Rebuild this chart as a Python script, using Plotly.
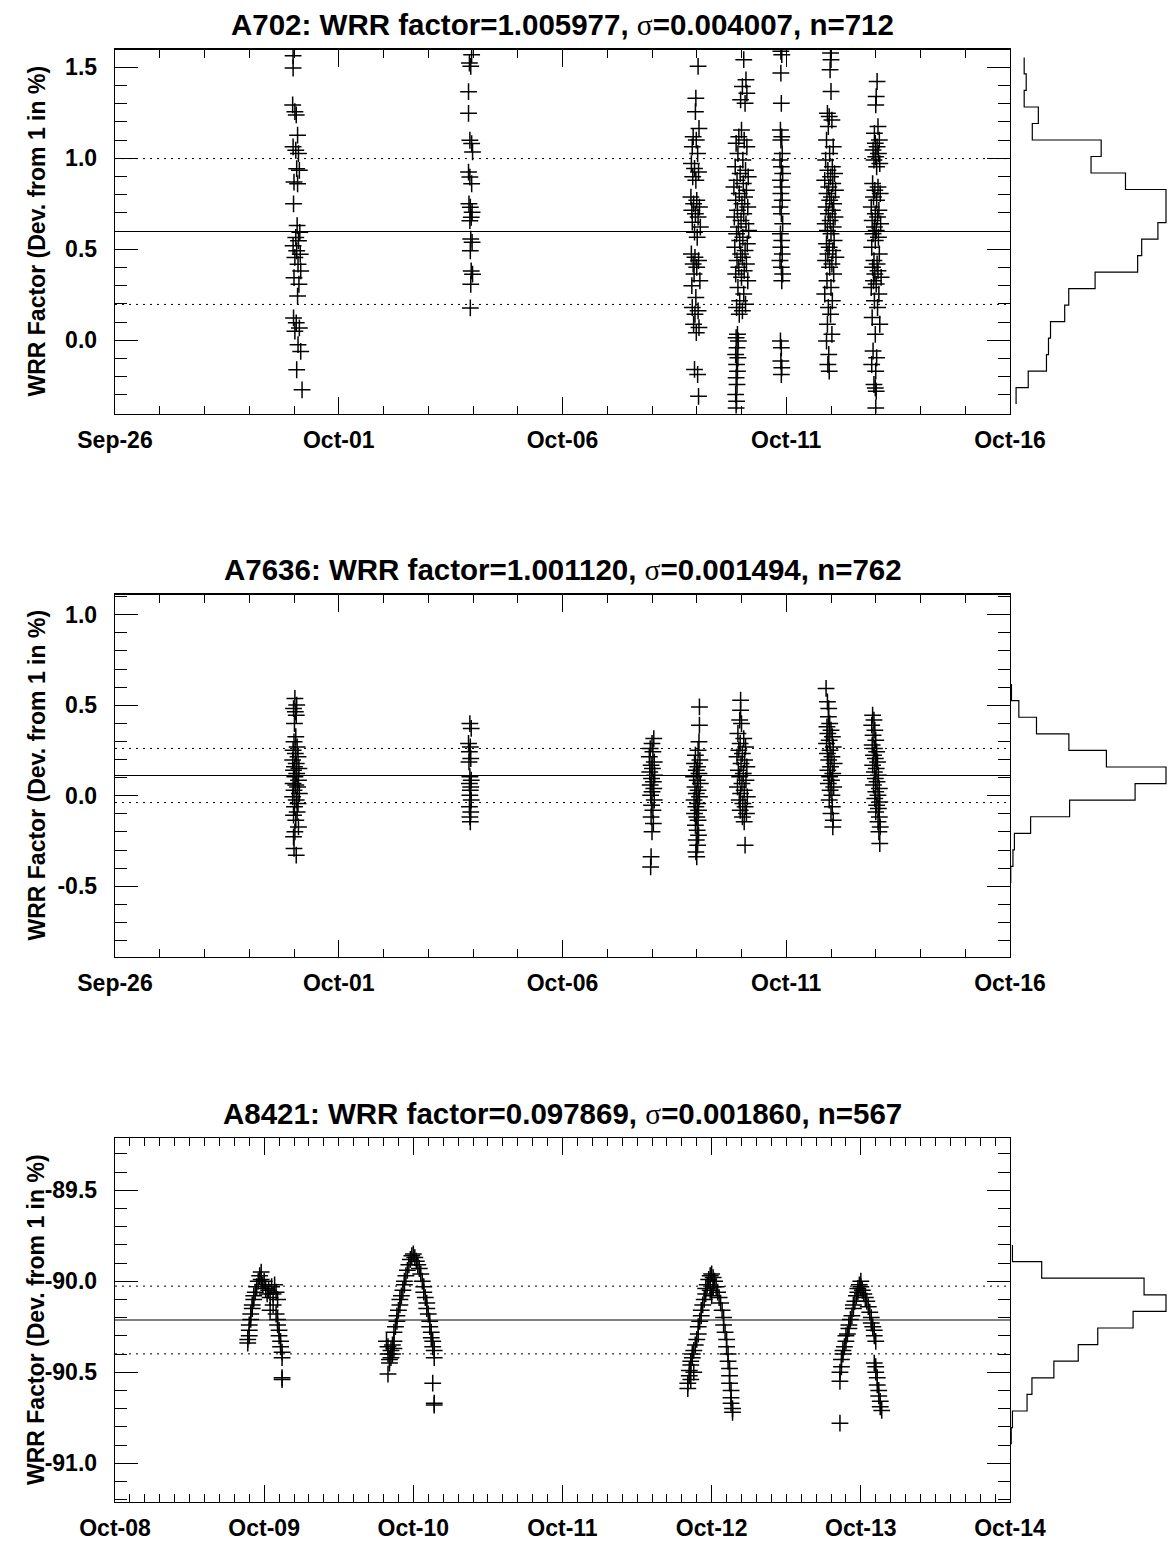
import plotly.graph_objects as go
import pandas as pd

W, H = 1169, 1543

# ---------------- header data ----------------
inst_names = ["A702", "A7636", "A8421"]
wrr_factor = [1.005977, 1.001120, 0.097869]
wrr_sigma = [0.004007, 0.001494, 0.001860]
n_obs = [712, 762, 567]

x_start = ["2004-09-26", "2004-09-26", "2004-10-08"]
x_days = [20, 20, 6]

y_ticks = [[0.0, 0.5, 1.0, 1.5], [-0.5, 0.0, 0.5, 1.0], [-91.0, -90.5, -90.0, -89.5]]
y_ticktext = [["0.0", "0.5", "1.0", "1.5"], ["-0.5", "0.0", "0.5", "1.0"],
              ["-91.0", "-90.5", "-90.0", "-89.5"]]

# ---------------- panel 1 (A702): days since Sep-26, deviation in % ----------------
p1_times = [
    [3.98, 3.98, 3.97, 4.02, 4.05, 4.08, 3.98, 4.04, 4.10, 4.06, 4.12, 4.00, 4.08, 3.99, 4.07, 4.13, 4.04, 4.10,
     3.98, 4.06, 4.14, 4.02, 4.09, 4.15, 4.00, 4.11, 4.08, 3.99, 4.05, 4.12, 4.02, 4.09, 4.15, 4.06, 4.18],
    [7.97, 7.92, 7.95, 7.90, 7.90, 7.93, 7.97, 7.99, 7.90, 7.93, 7.97, 7.91, 7.94, 7.98, 7.96, 7.93, 7.95, 7.98,
     7.94, 7.96, 7.99, 7.95, 7.94],
    [13.03, 12.98, 12.97, 13.05, 12.92, 12.99, 12.90, 13.02, 12.88, 12.95, 13.04, 12.91, 12.98, 12.87, 13.00,
     12.93, 13.06, 12.89, 12.97, 13.03, 12.90, 13.08, 12.95, 13.01, 12.88, 12.96, 13.04, 12.92, 13.00, 12.94,
     13.07, 12.89, 12.98, 12.90, 13.03, 12.96, 12.93, 13.05, 12.99, 12.95, 13.02, 13.04],
    [14.05, 14.10, 14.02, 14.12, 13.98, 14.08, 14.00, 13.94, 14.06, 13.88, 14.12, 13.92, 14.03, 13.86, 14.09,
     13.97, 14.15, 13.90, 14.04, 13.83, 14.11, 13.95, 14.07, 13.87, 14.01, 14.14, 13.91, 14.05, 13.84, 13.99,
     14.10, 13.93, 14.16, 13.89, 14.03, 13.96, 14.13, 13.85, 14.08, 13.98, 14.02, 13.90, 14.11, 13.94, 14.06,
     13.87, 14.00, 14.14, 13.92, 14.05, 13.96, 14.09, 13.89, 14.02, 13.95, 13.91, 13.88, 13.93, 13.90, 13.87,
     13.92, 13.89, 13.91, 13.88, 13.90, 13.87, 13.89, 13.88],
    [14.88, 14.90, 14.88, 14.89, 14.87, 14.90, 14.88, 14.91, 14.86, 14.89, 14.92, 14.87, 14.90, 14.88, 14.91,
     14.86, 14.89, 14.92, 14.87, 14.90, 14.88, 14.91, 14.86, 14.89, 14.92, 14.90, 14.87, 14.89, 14.88, 14.90,
     14.89],
    [15.99, 16.00, 15.98, 16.00, 15.92, 15.96, 16.02, 15.94, 15.90, 16.05, 15.97, 15.88, 16.03, 15.93, 16.08,
     15.99, 15.86, 16.04, 15.95, 16.10, 15.91, 16.01, 15.97, 16.06, 15.89, 16.03, 15.94, 16.09, 15.98, 15.87,
     16.05, 15.92, 16.00, 16.07, 15.90, 15.96, 16.04, 15.93, 16.11, 15.88, 16.02, 15.97, 16.06, 15.91, 16.00,
     15.86, 16.03, 15.94, 15.99, 15.92, 16.02, 15.90, 15.95, 15.93, 15.96],
    [17.03, 17.01, 17.00, 17.05, 16.97, 17.08, 16.99, 17.03, 16.94, 17.06, 17.00, 16.96, 17.09, 17.02, 16.93,
     17.05, 16.98, 17.10, 16.95, 17.02, 16.90, 17.07, 16.99, 17.04, 16.92, 17.11, 16.97, 17.01, 16.94, 17.06,
     16.99, 16.91, 17.08, 16.96, 17.03, 16.93, 17.05, 16.98, 17.12, 16.95, 17.01, 16.90, 17.07, 16.97, 17.04,
     16.92, 17.09, 16.99, 16.94, 17.02, 16.91, 17.00, 16.96, 16.99, 17.01, 17.00],
]
p1_vals = [
    [1.563, 1.496, 1.293, 1.256, 1.238, 1.127, 1.063, 1.044, 1.026, 0.943, 0.934, 0.869, 0.860, 0.750, 0.630,
     0.593, 0.565, 0.547, 0.519, 0.492, 0.473, 0.455, 0.418, 0.381, 0.344, 0.308, 0.243, 0.123, 0.096, 0.068,
     0.050, -0.024, -0.061, -0.162, -0.272],
    [1.569, 1.523, 1.505, 1.366, 1.247, 1.099, 1.081, 1.035, 0.924, 0.897, 0.860, 0.750, 0.731, 0.704, 0.676,
     0.657, 0.556, 0.538, 0.492, 0.381, 0.363, 0.308, 0.178],
    [1.505, 1.330, 1.256, 1.164, 1.118, 1.100, 1.063, 1.026, 0.971, 0.944, 0.925, 0.898, 0.879, 0.787, 0.769,
     0.750, 0.732, 0.714, 0.695, 0.677, 0.649, 0.622, 0.594, 0.566, 0.474, 0.456, 0.438, 0.419, 0.401, 0.364,
     0.327, 0.300, 0.235, 0.180, 0.162, 0.143, 0.088, 0.070, 0.042, -0.160, -0.188, -0.308],
    [1.542, 1.431, 1.394, 1.358, 1.321, 1.302, 1.155, 1.118, 1.100, 1.082, 1.063, 1.026, 0.990, 0.953, 0.934,
     0.916, 0.898, 0.879, 0.861, 0.842, 0.824, 0.806, 0.787, 0.769, 0.750, 0.732, 0.714, 0.695, 0.677, 0.658,
     0.640, 0.622, 0.603, 0.585, 0.566, 0.548, 0.530, 0.511, 0.493, 0.474, 0.456, 0.438, 0.419, 0.401, 0.382,
     0.364, 0.346, 0.327, 0.290, 0.254, 0.217, 0.198, 0.180, 0.162, 0.143, 0.033, 0.014, -0.004, -0.041, -0.078,
     -0.096, -0.133, -0.170, -0.206, -0.243, -0.298, -0.335, -0.372],
    [1.588, 1.569, 1.468, 1.302, 1.155, 1.118, 1.100, 1.026, 0.990, 0.953, 0.916, 0.879, 0.842, 0.806, 0.769,
     0.732, 0.695, 0.640, 0.585, 0.548, 0.511, 0.474, 0.438, 0.401, 0.364, 0.327, -0.004, -0.041, -0.114,
     -0.151, -0.188],
    [1.578, 1.542, 1.486, 1.367, 1.247, 1.229, 1.210, 1.174, 1.100, 1.063, 1.026, 0.990, 0.953, 0.934, 0.916,
     0.898, 0.879, 0.861, 0.842, 0.824, 0.806, 0.787, 0.769, 0.750, 0.732, 0.714, 0.695, 0.677, 0.658, 0.640,
     0.622, 0.603, 0.585, 0.548, 0.530, 0.511, 0.493, 0.474, 0.456, 0.438, 0.419, 0.401, 0.364, 0.327, 0.290,
     0.254, 0.217, 0.180, 0.143, 0.088, 0.033, -0.004, -0.078, -0.133, -0.170],
    [1.422, 1.339, 1.293, 1.174, 1.137, 1.100, 1.082, 1.063, 1.045, 1.026, 1.008, 0.990, 0.971, 0.953, 0.861,
     0.842, 0.824, 0.806, 0.787, 0.769, 0.732, 0.714, 0.695, 0.677, 0.658, 0.640, 0.622, 0.603, 0.585, 0.566,
     0.548, 0.511, 0.474, 0.438, 0.419, 0.401, 0.382, 0.364, 0.346, 0.327, 0.309, 0.290, 0.254, 0.217, 0.180,
     0.125, 0.088, 0.033, -0.059, -0.096, -0.133, -0.170, -0.243, -0.262, -0.280, -0.372],
]

# ---------------- panel 2 (A7636) ----------------
p2_times = [
    [4.02, 4.06, 3.99, 4.03, 4.05, 4.01, 4.04, 4.00, 4.07, 3.98, 4.03, 4.09, 3.97, 4.05, 4.01, 4.11, 3.99, 4.06,
     4.02, 4.10, 3.98, 4.04, 4.08, 4.00, 4.12, 3.97, 4.05, 4.09, 4.01, 4.07, 3.99, 4.04, 4.10, 4.02, 3.99, 4.00,
     4.05],
    [7.93, 7.96, 7.90, 7.94, 7.92, 7.95, 7.91, 7.93, 7.96, 7.92, 7.95, 7.94, 7.93, 7.96, 7.92, 7.95, 7.93, 7.94],
    [12.04, 12.00, 11.96, 12.02, 11.94, 12.05, 11.98, 12.01, 11.95, 12.06, 11.99, 12.03, 11.96, 12.04, 12.00,
     11.97, 12.05, 11.99, 12.02, 11.98, 12.03, 12.00, 11.98, 11.97],
    [13.06, 13.06, 13.05, 13.03, 12.97, 13.07, 12.95, 13.02, 12.99, 13.05, 12.93, 13.01, 13.08, 12.96, 13.03,
     12.99, 13.06, 12.94, 13.02, 12.98, 13.04, 12.95, 13.00, 13.03, 12.97, 13.01, 13.04, 12.99, 13.02, 12.98,
     13.00],
    [13.98, 13.98, 13.96, 14.00, 13.92, 14.05, 13.97, 14.09, 13.94, 14.02, 13.90, 14.07, 13.99, 14.12, 13.93,
     14.04, 13.96, 14.10, 14.01, 13.91, 14.06, 13.98, 14.13, 13.95, 14.03, 14.08, 13.97, 14.11, 14.02, 14.06,
     14.08],
    [15.89, 15.92, 15.95, 15.94, 15.97, 15.91, 16.00, 15.93, 16.03, 15.96, 15.90, 16.05, 15.98, 15.92, 16.02,
     15.95, 16.07, 15.99, 15.93, 16.04, 15.97, 16.01, 15.94, 16.06, 15.98, 16.02, 15.96, 16.03, 16.00, 16.05,
     16.04],
    [16.93, 16.96, 16.91, 16.98, 16.94, 17.00, 16.92, 16.97, 17.02, 16.95, 16.99, 17.04, 16.93, 17.01, 16.97,
     17.06, 16.99, 17.03, 16.95, 17.08, 17.00, 17.05, 16.98, 17.09, 17.02, 17.06, 17.00, 17.08, 17.05, 17.10,
     17.07, 17.09],
]
p2_vals = [
    [0.538, 0.501, 0.482, 0.464, 0.445, 0.399, 0.326, 0.298, 0.270, 0.252, 0.233, 0.215, 0.197, 0.178, 0.160,
     0.151, 0.141, 0.123, 0.105, 0.086, 0.068, 0.059, 0.049, 0.031, 0.012, -0.006, -0.024, -0.043, -0.061,
     -0.089, -0.107, -0.135, -0.172, -0.199, -0.227, -0.291, -0.328],
    [0.399, 0.372, 0.289, 0.270, 0.243, 0.206, 0.187, 0.105, 0.086, 0.068, 0.049, 0.031, 0.003, -0.024, -0.061,
     -0.089, -0.117, -0.144],
    [0.316, 0.289, 0.261, 0.243, 0.215, 0.187, 0.169, 0.151, 0.132, 0.114, 0.095, 0.077, 0.059, 0.040, 0.022,
     0.003, -0.024, -0.052, -0.080, -0.117, -0.153, -0.199, -0.337, -0.393],
    [0.491, 0.390, 0.298, 0.252, 0.224, 0.197, 0.178, 0.160, 0.141, 0.123, 0.105, 0.086, 0.068, 0.049, 0.031,
     0.012, -0.006, -0.024, -0.043, -0.061, -0.080, -0.098, -0.117, -0.135, -0.163, -0.190, -0.218, -0.245,
     -0.273, -0.310, -0.337],
    [0.528, 0.473, 0.418, 0.399, 0.344, 0.316, 0.289, 0.270, 0.252, 0.233, 0.215, 0.197, 0.178, 0.160, 0.141,
     0.123, 0.105, 0.086, 0.068, 0.049, 0.031, 0.012, -0.006, -0.024, -0.043, -0.061, -0.080, -0.098, -0.117,
     -0.144, -0.273],
    [0.593, 0.519, 0.482, 0.436, 0.399, 0.381, 0.362, 0.344, 0.326, 0.307, 0.289, 0.270, 0.252, 0.233, 0.215,
     0.197, 0.178, 0.160, 0.141, 0.123, 0.105, 0.086, 0.068, 0.049, 0.031, 0.003, -0.024, -0.061, -0.098,
     -0.135, -0.172],
    [0.445, 0.418, 0.390, 0.362, 0.335, 0.307, 0.280, 0.261, 0.243, 0.224, 0.206, 0.187, 0.169, 0.151, 0.132,
     0.114, 0.095, 0.077, 0.059, 0.040, 0.022, 0.003, -0.015, -0.034, -0.052, -0.070, -0.089, -0.117, -0.144,
     -0.172, -0.199, -0.264],
]

# ---------------- panel 3 (A8421): days since Oct-08 ----------------
p3_times = [
    [0.89, 0.89, 0.90, 0.90, 0.90, 0.91, 0.91, 0.92, 0.92, 0.93, 0.93, 0.94, 0.95, 0.96, 0.97, 0.98, 0.98,
     0.99, 1.00, 1.01, 1.02, 1.03, 1.04, 1.05, 1.06, 1.07, 1.08, 1.09, 1.06, 1.04,
     1.08, 1.09, 1.09, 1.10, 1.10, 1.11, 1.11, 1.12, 1.12, 1.12, 1.12],
    [1.82, 1.83, 1.83, 1.84, 1.84, 1.85, 1.85, 1.86, 1.86, 1.87, 1.87, 1.83,
     1.87, 1.88, 1.89, 1.89, 1.90, 1.91, 1.91, 1.92, 1.93, 1.94, 1.94, 1.95, 1.96, 1.97, 1.98, 1.99, 2.00,
     2.01, 2.02,
     2.03, 2.04, 2.05, 2.06, 2.07, 2.07, 2.08, 2.09, 2.09, 2.10, 2.11, 2.11, 2.12, 2.12, 2.13, 2.13, 2.14,
     2.14, 2.13, 2.14, 2.14],
    [3.84, 3.84, 3.85, 3.85, 3.86, 3.86, 3.87, 3.87, 3.88, 3.88, 3.86,
     3.89, 3.90, 3.91, 3.91, 3.92, 3.93, 3.93, 3.94, 3.95, 3.96, 3.96, 3.97, 3.98, 3.99, 4.00, 4.01, 4.02,
     4.01, 3.99, 4.00,
     4.03, 4.04, 4.05, 4.06, 4.07, 4.08, 4.08, 4.09, 4.10, 4.10, 4.11, 4.11, 4.12, 4.12, 4.12, 4.13, 4.13,
     4.13, 4.14, 4.14],
    [4.86,
     4.86, 4.86, 4.87, 4.87, 4.88, 4.88, 4.89, 4.90, 4.90, 4.91, 4.92, 4.92, 4.93, 4.94, 4.95, 4.95, 4.96,
     4.97, 4.98, 4.98, 4.99, 5.00, 5.00, 5.01,
     5.02, 5.03, 5.04, 5.05, 5.06, 5.07, 5.07, 5.08, 5.09, 5.09, 5.10, 5.09, 5.10, 5.10, 5.11, 5.11, 5.12,
     5.12, 5.13, 5.13, 5.14],
]
p3_vals = [
    [-90.34, -90.32, -90.30, -90.27, -90.24, -90.21, -90.18, -90.15, -90.13, -90.10, -90.08, -90.06, -90.03,
     -90.00, -89.97, -89.95, -89.99, -90.02, -90.00, -90.04, -90.07, -90.05, -90.09, -90.03, -90.07, -90.02,
     -90.06, -90.10, -90.13, -90.16,
     -90.18, -90.21, -90.24, -90.27, -90.30, -90.33, -90.36, -90.39, -90.42, -90.53, -90.54],
    [-90.33, -90.36, -90.40, -90.43, -90.45, -90.38, -90.42, -90.35, -90.40, -90.37, -90.33, -90.51,
     -90.28, -90.25, -90.22, -90.19, -90.16, -90.13, -90.10, -90.08, -90.05, -90.02, -90.00, -89.97, -89.94,
     -89.91, -89.88, -89.86, -89.85, -89.87, -89.89,
     -89.91, -89.93, -89.96, -90.00, -90.03, -90.06, -90.09, -90.12, -90.15, -90.18, -90.22, -90.25, -90.28,
     -90.31, -90.33, -90.36, -90.38, -90.42, -90.56, -90.67, -90.68],
    [-90.59, -90.56, -90.52, -90.49, -90.46, -90.44, -90.42, -90.40, -90.38, -90.50, -90.54,
     -90.35, -90.32, -90.29, -90.25, -90.22, -90.19, -90.16, -90.13, -90.10, -90.07, -90.04, -90.02, -89.99,
     -89.97, -89.96, -89.98, -90.00, -90.03, -90.05, -90.08,
     -90.03, -90.06, -90.09, -90.12, -90.16, -90.20, -90.24, -90.28, -90.32, -90.36, -90.40, -90.44, -90.48,
     -90.52, -90.56, -90.60, -90.64, -90.67, -90.70, -90.72],
    [-90.78,
     -90.55, -90.50, -90.47, -90.43, -90.40, -90.38, -90.36, -90.33, -90.30, -90.29, -90.26, -90.24, -90.21,
     -90.19, -90.15, -90.13, -90.11, -90.08, -90.06, -90.04, -90.02, -90.00, -90.03, -90.05,
     -90.07, -90.09, -90.11, -90.14, -90.17, -90.20, -90.23, -90.25, -90.27, -90.30, -90.33, -90.45, -90.47,
     -90.50, -90.53, -90.57, -90.60, -90.63, -90.66, -90.69, -90.71],
]

# ---------------- histograms (bins listed from top to bottom) ----------------
hist_top = [1.554, 0.617, -89.801]
hist_binw = [0.0907, 0.0916, 0.0912]
hist_counts = [
    [7, 8, 7, 14, 11, 45, 40, 57, 77, 77, 73, 65, 63, 42, 29, 27, 20, 19, 18, 9, 3],
    [2, 12, 36, 80, 131, 212, 170, 81, 28, 6, 4, 1],
    [2, 26, 110, 128, 101, 72, 56, 36, 18, 14, 2, 1],
]

# ---------------- layout constants (pixels) ----------------
X0, X1, HX1 = 115, 1010, 1166
PANEL_PX = [(49.5, 413.5), (594.5, 956.5), (1138.0, 1502.0)]
XLAB_STANDOFF = [6, 6, 5]
FONT = "Liberation Sans, Arial, Helvetica, sans-serif"
HPAD = 1.015  # head-room so the tallest histogram step is not clipped


def axname(n):
    return "" if n == 1 else str(n)


fig = go.Figure()
layout = dict(template="none", width=W, height=H, margin=dict(l=0, r=0, t=0, b=0, autoexpand=False),
              paper_bgcolor="white", plot_bgcolor="rgba(0,0,0,0)", showlegend=False)
annotations, shapes = [], []

all_times = [p1_times, p2_times, p3_times]
all_vals = [p1_vals, p2_vals, p3_vals]

for i in range(3):
    am = axname(2 * i + 1)
    ah = axname(2 * i + 2)
    top_px, bot_px = PANEL_PX[i]
    ydom = [1 - bot_px / H, 1 - top_px / H]
    mean = (wrr_factor[i] - 1) * 100
    sig = wrr_sigma[i] * 100
    yr = [mean - 1.0, mean + 1.0]
    base = pd.Timestamp(x_start[i])

    ts, vs = [], []
    for tc, vc in zip(all_times[i], all_vals[i]):
        for t, v in zip(tc, vc):
            ts.append(base + pd.Timedelta(days=t))
            vs.append(v)

    fig.add_trace(go.Scatter(
        x=ts, y=vs, mode="markers", xaxis="x" + am, yaxis="y" + am,
        marker=dict(symbol="cross-thin", size=12, color="black",
                    line=dict(width=1.5, color="black")),
        cliponaxis=True, hoverinfo="skip"))

    # histogram step outline
    hx, hy = [], []
    for k, c in enumerate(hist_counts[i]):
        y_hi = hist_top[i] - k * hist_binw[i]
        y_lo = y_hi - hist_binw[i]
        hx += [c, c]
        hy += [y_hi, y_lo]
    fig.add_trace(go.Scatter(
        x=hx, y=hy, mode="lines", xaxis="x" + ah, yaxis="y" + ah, cliponaxis=False,
        line=dict(color="black", width=1.2), hoverinfo="skip"))

    if i < 2:
        dtick_major = 5 * 86400000
        dtick_minor = 86400000
    else:
        dtick_major = 86400000
        dtick_minor = 8640000
    end = base + pd.Timedelta(days=x_days[i])

    layout["xaxis" + am] = dict(
        domain=[X0 / W, X1 / W], anchor="y" + am, type="date", automargin=False,
        range=[base, end], tickformat="%b-%d", tick0=base, dtick=dtick_major,
        ticks="inside", ticklen=17, tickwidth=1, tickcolor="black",
        minor=dict(ticks="inside", dtick=dtick_minor, tick0=base, ticklen=8,
                   tickwidth=1, tickcolor="black", showgrid=False),
        showline=True, linecolor="black", linewidth=1.3, mirror="ticks",
        showgrid=False, zeroline=False, ticklabelstandoff=XLAB_STANDOFF[i],
        tickfont=dict(family=FONT, size=23, color="black", weight="bold"))
    layout["yaxis" + am] = dict(
        domain=ydom, anchor="x" + am, range=yr, automargin=False,
        tickmode="array", tickvals=y_ticks[i], ticktext=y_ticktext[i],
        ticks="inside", ticklen=23, tickwidth=1, tickcolor="black",
        minor=dict(ticks="inside", tickmode="linear", tick0=0, dtick=0.1, ticklen=12,
                   tickwidth=1, tickcolor="black", showgrid=False),
        showline=True, linecolor="black", linewidth=1.3, mirror="ticks",
        showgrid=False, zeroline=False, ticklabelstandoff=12,
        tickfont=dict(family=FONT, size=23, color="black", weight="bold"))
    hmax = max(hist_counts[i])
    hx1 = X1 + (HX1 - X1) * HPAD
    layout["xaxis" + ah] = dict(
        domain=[X1 / W, hx1 / W], anchor="y" + ah, range=[0, hmax * HPAD], automargin=False,
        visible=False, showgrid=False, zeroline=False)
    layout["yaxis" + ah] = dict(
        domain=ydom, anchor="x" + ah, range=yr, automargin=False,
        visible=False, showgrid=False, zeroline=False)

    # mean and +/- sigma lines
    shapes.append(dict(type="line", xref="x" + am + " domain", yref="y" + am,
                       x0=0, x1=1, y0=mean, y1=mean, line=dict(color="black", width=1)))
    for s in (-1, 1):
        shapes.append(dict(type="line", xref="x" + am + " domain", yref="y" + am,
                           x0=0, x1=1, y0=mean + s * sig, y1=mean + s * sig,
                           line=dict(color="black", width=1, dash="2px,5px")))

    title = (f"{inst_names[i]}: WRR factor={wrr_factor[i]:.6f}, "
             f"<span style='font-family:Liberation Serif, DejaVu Serif, serif;font-weight:normal'>σ</span>"
             f"={wrr_sigma[i]:.6f}, n={n_obs[i]}")
    annotations.append(dict(
        text=title, xref="paper", yref="paper", x=(X0 + X1) / 2 / W, y=1 - (top_px - 25) / H,
        xanchor="center", yanchor="middle", showarrow=False,
        font=dict(family=FONT, size=29.5, color="black", weight="bold")))
    annotations.append(dict(
        text="WRR Factor (Dev. from 1 in %)", xref="paper", yref="paper",
        x=36 / W, y=1 - (top_px + bot_px) / 2 / H, xanchor="center", yanchor="middle",
        textangle=-90, showarrow=False,
        font=dict(family=FONT, size=23, color="black", weight="bold")))

layout["annotations"] = annotations
layout["shapes"] = shapes
fig.update_layout(**layout)
fig.write_html(
    "out.html",
    config={"displayModeBar": False, "staticPlot": True},
    post_script="document.body.style.margin='0';document.body.style.overflow='hidden';")
